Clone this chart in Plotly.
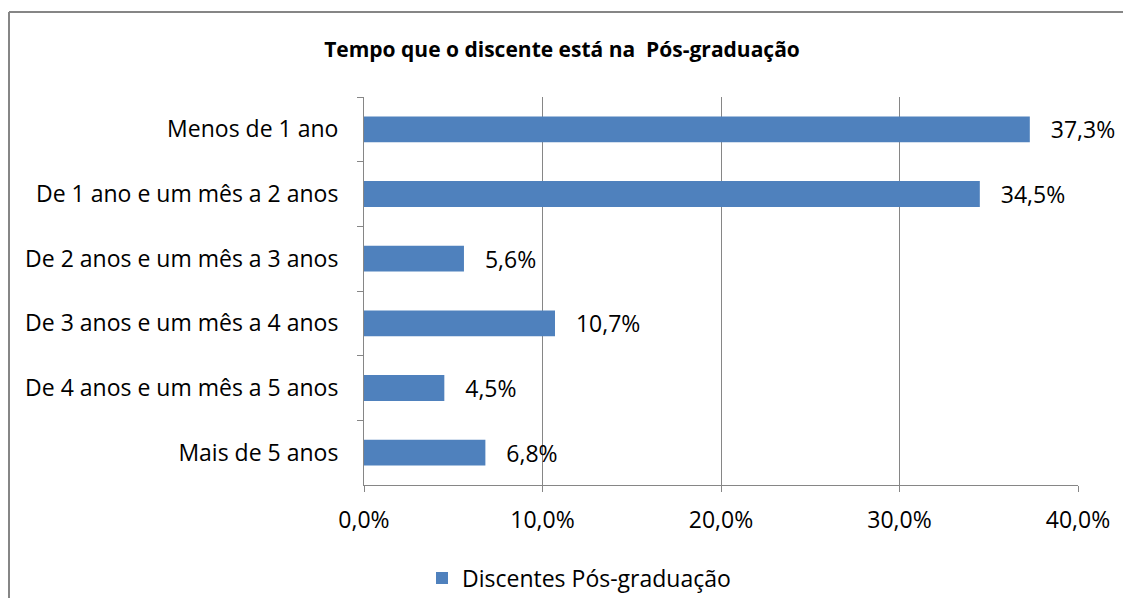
import plotly.graph_objects as go

categories = [
    "Menos de 1 ano",
    "De 1 ano e um mês a 2 anos",
    "De 2 anos e um mês a 3 anos",
    "De 3 anos e um mês a 4 anos",
    "De 4 anos e um mês a 5 anos",
    "Mais de 5 anos",
]
values = [0.373, 0.345, 0.056, 0.107, 0.045, 0.068]
series_name = "Discentes Pós-graduação"
title_text = "Tempo que o discente está na  Pós-graduação"
tick_vals = [0, 0.1, 0.2, 0.3, 0.4]

FONT = "Open Sans"
BLUE = "#4F81BD"
GRID = "#868686"
FS = 23

W, H = 1115, 590
L, T = 356, 89
PW, PH = 714, 388
R, B = W - L - PW, H - T - PH

fig = go.Figure()
fig.add_trace(go.Bar(
    y=categories, x=values, orientation="h",
    name=series_name,
    marker=dict(color=BLUE, line=dict(width=0)),
    texttemplate="&nbsp;&nbsp;&nbsp;%{x:.1%}", textposition="outside",
    textfont=dict(family=FONT, size=FS, color="#000000"),
    constraintext="none",
    cliponaxis=False,
    width=0.4,
))

fig.update_layout(
    width=W, height=H,
    paper_bgcolor="white", plot_bgcolor="white",
    separators=",.",
    margin=dict(l=L, r=R, t=T, b=B, autoexpand=False),
    title=dict(text="<b>" + title_text + "</b>", x=(562 - 8) / W, xanchor="center",
               y=1 - 42 / H, yanchor="middle",
               font=dict(family=FONT, size=21, color="#000000")),
    showlegend=True,
    legend=dict(orientation="h", x=(414 - L) / PW, xanchor="left",
                y=-(570 - (T + PH)) / PH, yanchor="middle",
                font=dict(family=FONT, size=FS, color="#000000"),
                itemwidth=30),
    font=dict(family=FONT),
)

fig.update_xaxes(
    range=[0, 0.4], tickvals=tick_vals, tickformat=".1%",
    showgrid=True, gridcolor=GRID, gridwidth=1,
    showline=True, linecolor=GRID, linewidth=1,
    ticks="outside", ticklen=6, tickcolor=GRID, ticklabelstandoff=8,
    tickfont=dict(family=FONT, size=FS, color="#000000"),
    zeroline=False, fixedrange=True, automargin=False,
)
fig.update_yaxes(
    autorange="reversed", categoryorder="array", categoryarray=categories,
    showline=True, linecolor=GRID, linewidth=1,
    ticks="outside", ticklen=6, tickcolor=GRID, tickson="boundaries",
    ticklabelstandoff=20,
    tickfont=dict(family=FONT, size=FS, color="#000000"),
    showgrid=False, fixedrange=True, automargin=False,
)

# chart-area border (top and left edges visible in the frame)
fig.add_shape(type="line", xref="paper", yref="paper",
              x0=(1 - L) / PW, x1=(W + 10 - L) / PW,
              y0=1 + (T - 4) / PH, y1=1 + (T - 4) / PH,
              line=dict(color=GRID, width=2), layer="below")
fig.add_shape(type="line", xref="paper", yref="paper",
              x0=(1 - L) / PW, x1=(1 - L) / PW,
              y0=-(B + 10) / PH, y1=1 + (T - 4) / PH,
              line=dict(color=GRID, width=2), layer="below")

fig.write_html("out.html")
